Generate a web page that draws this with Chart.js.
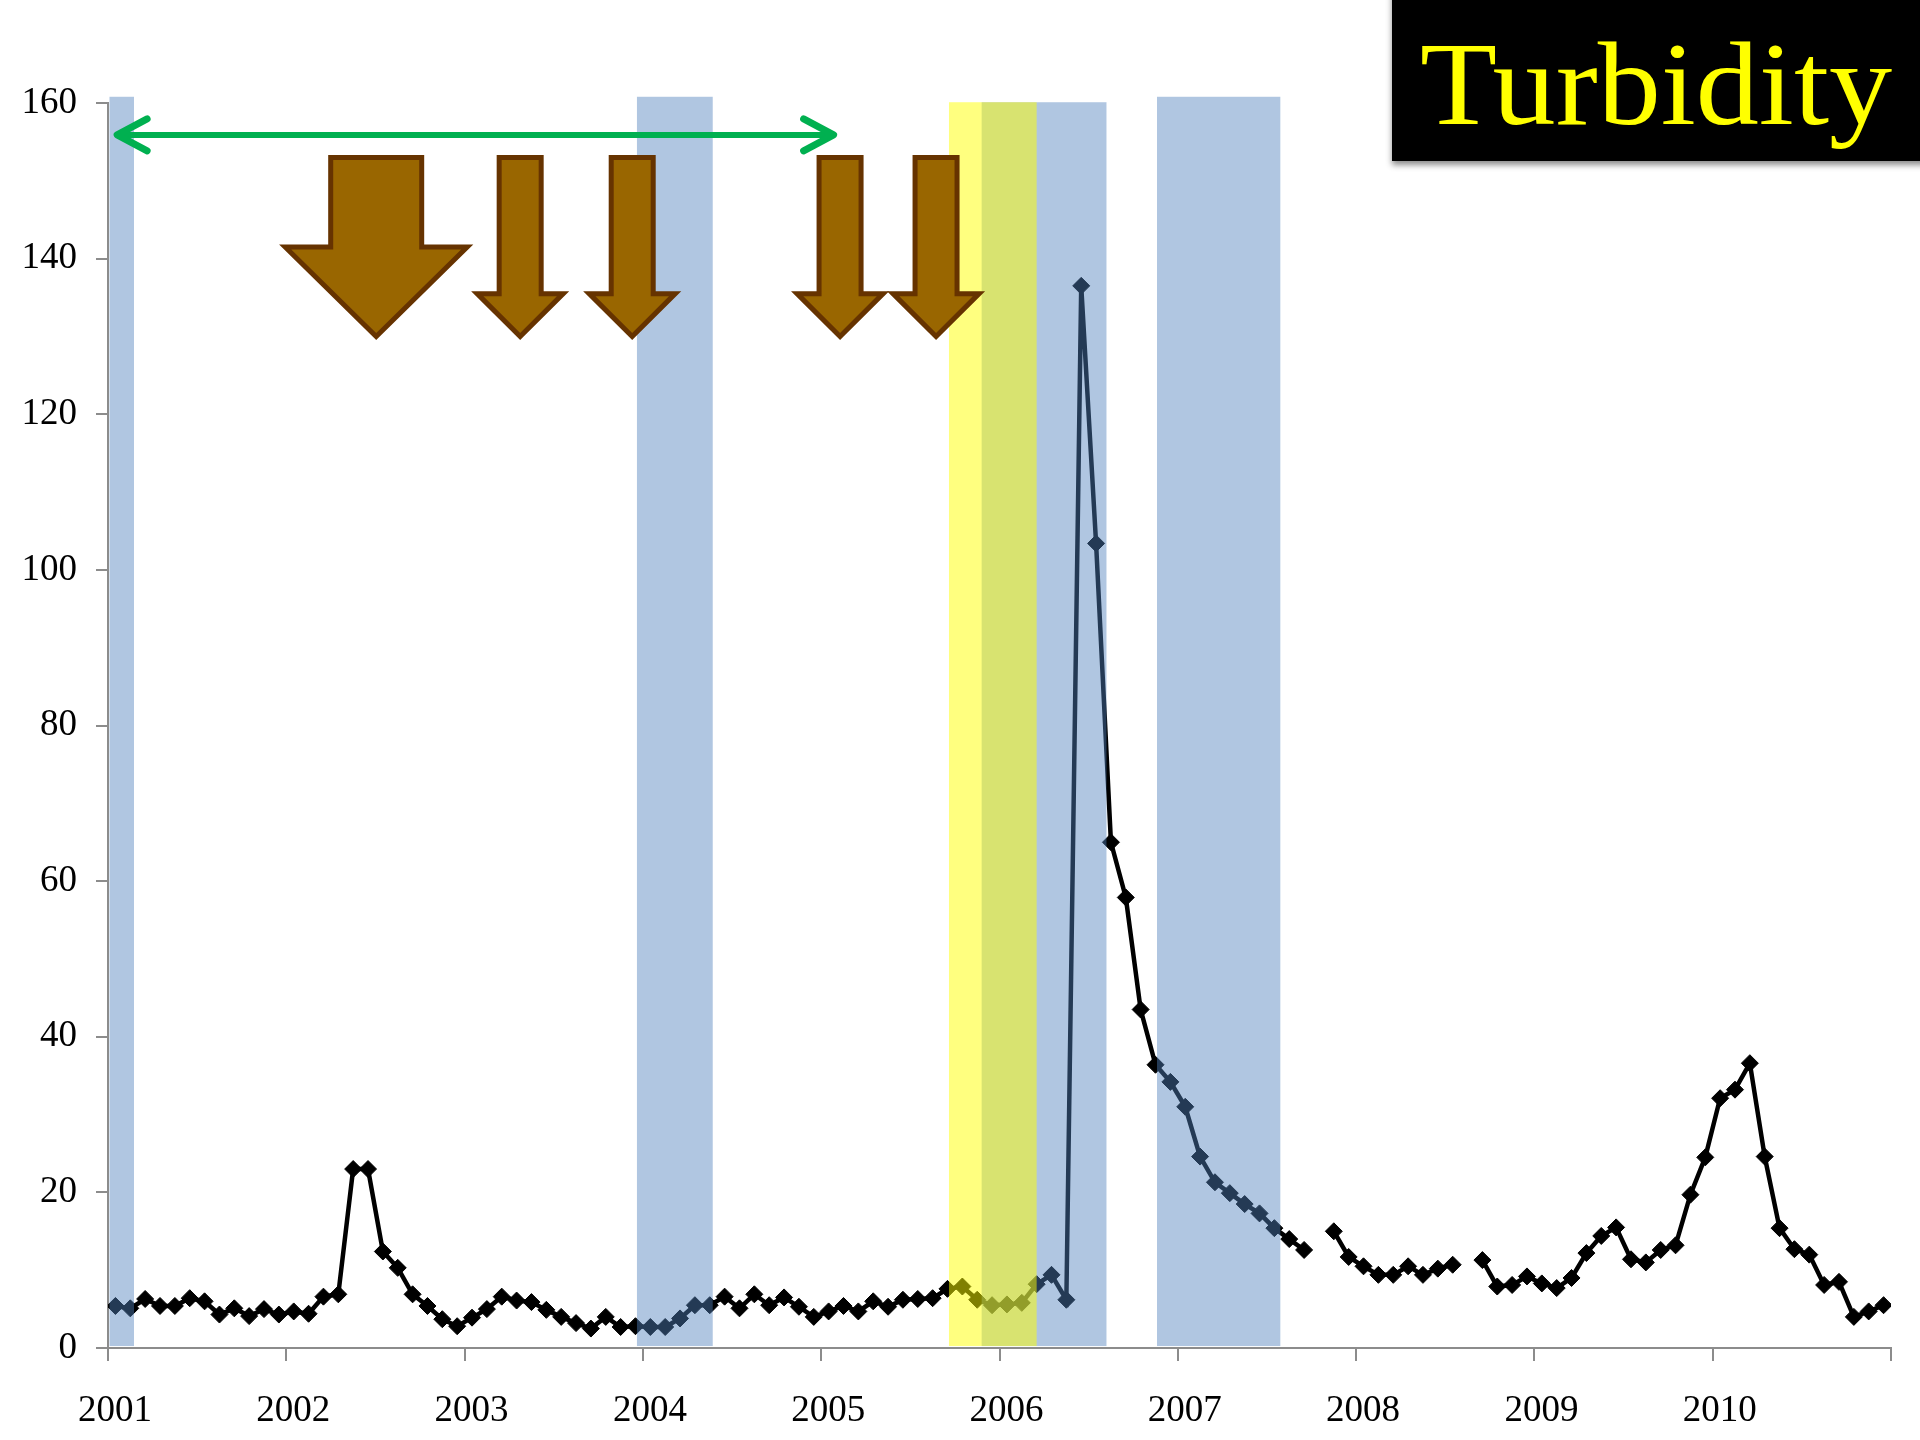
<!DOCTYPE html>
<html>
<head>
<meta charset="utf-8">
<script src="https://cdn.jsdelivr.net/npm/chart.js@4.4.0/dist/chart.umd.min.js"></script>
<style>
  body { margin: 0; background: #fff; }
  canvas { display: block; }
</style>
</head>
<body>
<canvas id="turbidityChart" width="1920" height="1440"></canvas>
<script>
// monthly turbidity, Jan 2001 .. Dec 2010 (null = no sample that month)
const startYear = 2001;
const turbidity = [
    5.4, 5.1, 6.3, 5.4, 5.4, 6.4, 6.0, 4.3, 5.1, 4.1, 5.0, 4.3,        // 2001
    4.7, 4.4, 6.6, 6.9, 23.0, 23.0, 12.4, 10.3, 6.9, 5.4, 3.7, 2.8,    // 2002
    3.9, 5.0, 6.6, 6.1, 5.9, 4.9, 4.0, 3.2, 2.5, 4.0, 2.7, 2.8,        // 2003
    2.7, 2.7, 3.8, 5.5, 5.5, 6.6, 5.1, 6.9, 5.5, 6.5, 5.3, 4.0,        // 2004
    4.7, 5.4, 4.7, 6.0, 5.3, 6.2, 6.3, 6.4, 7.6, 7.9, 6.2, 5.5,        // 2005
    5.6, 5.8, 8.2, 9.4, 6.2, 136.5, 103.4, 65.0, 57.9, 43.5, 36.4, 34.2, // 2006
    31.0, 24.6, 21.3, 19.9, 18.5, 17.3, 15.4, 14.0, 12.6, null, 15.0, 11.7, // 2007
    10.5, 9.4, 9.4, 10.5, 9.4, 10.2, 10.7, null, 11.3, 7.9, 8.1, 9.2,  // 2008
    8.3, 7.7, 9.0, 12.2, 14.4, 15.5, 11.4, 11.0, 12.6, 13.2, 19.7, 24.5, // 2009
    32.1, 33.2, 36.6, 24.6, 15.4, 12.7, 12.0, 8.1, 8.5, 4.0, 4.7, 5.5  // 2010
];
const yMin = 0, yMax = 160, yStep = 20;

// shaded periods, in months since Jan 2001
const bluePeriods = [[0.1, 1.75], [35.6, 40.7], [58.8, 67.2], [70.6, 78.9]];
const yellowPeriod = [56.6, 62.5];
// brown arrows (month of centre), first one is the big one
const arrowMonths = [18.05, 27.74, 35.28, 49.27, 55.73];
const greenSpan = [0.48, 48.97];

const points = turbidity.map((v, i) => ({ x: i + 0.5, y: v }));

const overlays = {
    id: 'overlays',
    afterDatasetsDraw(chart) {
        const { ctx, scales: { x, y } } = chart;
        ctx.save();

        //bands go on top of the line, like the slide
        ctx.fillStyle = 'rgba(79,129,189,0.45)';
        bluePeriods.forEach((p, i) => {
            const top = (i === 2) ? 160.1 : 160.8;
            const x0 = x.getPixelForValue(p[0]), x1 = x.getPixelForValue(p[1]);
            const y0 = y.getPixelForValue(top), y1 = y.getPixelForValue(0.25);
            ctx.fillRect(x0, y0, x1 - x0, y1 - y0);
        });
        ctx.fillStyle = 'rgba(255,255,0,0.5)';
        {
            const x0 = x.getPixelForValue(yellowPeriod[0]), x1 = x.getPixelForValue(yellowPeriod[1]);
            const y0 = y.getPixelForValue(160.1), y1 = y.getPixelForValue(0.25);
            ctx.fillRect(x0, y0, x1 - x0, y1 - y0);
        }

        //green double arrow
        const gy = y.getPixelForValue(155.9);
        const gx0 = x.getPixelForValue(greenSpan[0]), gx1 = x.getPixelForValue(greenSpan[1]);
        ctx.strokeStyle = '#00b050';
        ctx.lineWidth = 6;
        ctx.lineCap = 'round';
        ctx.lineJoin = 'round';
        ctx.beginPath();
        ctx.moveTo(gx0 + 3, gy); ctx.lineTo(gx1 - 3, gy);
        ctx.stroke();
        ctx.lineWidth = 7;
        ctx.beginPath();
        ctx.moveTo(gx0 + 32, gy - 16); ctx.lineTo(gx0 + 2, gy); ctx.lineTo(gx0 + 32, gy + 16);
        ctx.moveTo(gx1 - 32, gy - 16); ctx.lineTo(gx1 - 2, gy); ctx.lineTo(gx1 - 32, gy + 16);
        ctx.stroke();

        //brown arrows
        ctx.fillStyle = '#996600';
        ctx.strokeStyle = '#663300';
        ctx.lineWidth = 5;
        ctx.lineJoin = 'miter';
        arrowMonths.forEach((m, i) => {
            const big = i === 0;
            const cx = x.getPixelForValue(m);
            const shaft = big ? 45.5 : 21, head = big ? 91 : 43;
            const yTop = y.getPixelForValue(153);
            const yHead = y.getPixelForValue(big ? 141.5 : 135.5);
            const yTip = y.getPixelForValue(130);
            ctx.beginPath();
            ctx.moveTo(cx - shaft, yTop);
            ctx.lineTo(cx + shaft, yTop);
            ctx.lineTo(cx + shaft, yHead);
            ctx.lineTo(cx + head, yHead);
            ctx.lineTo(cx, yTip);
            ctx.lineTo(cx - head, yHead);
            ctx.lineTo(cx - shaft, yHead);
            ctx.closePath();
            ctx.fill();
            ctx.stroke();
        });
        ctx.restore();
    },
    afterDraw(chart) {
        const ctx = chart.ctx;
        ctx.save();
        ctx.shadowColor = 'rgba(0,0,0,0.45)';
        ctx.shadowBlur = 6;
        ctx.shadowOffsetY = 4;
        ctx.fillStyle = '#000';
        ctx.fillRect(1392, -10, 540, 171);
        ctx.shadowColor = 'transparent';
        ctx.fillStyle = '#ffff00';
        ctx.font = '118px "Liberation Serif"';
        const w = ctx.measureText('Turbidity').width;
        ctx.translate(1420, 124);
        ctx.scale(472 / w, 1);
        ctx.fillText('Turbidity', 0, 0);
        ctx.restore();
    }
};

new Chart(document.getElementById('turbidityChart'), {
    type: 'line',
    data: {
        datasets: [{
            data: points,
            borderColor: '#000',
            borderWidth: 4.5,
            backgroundColor: '#000',
            pointStyle: 'rectRot',
            pointRadius: 8.5,
            pointBorderWidth: 1,
            pointBorderColor: '#000',
            pointBackgroundColor: '#000',
            tension: 0,
            spanGaps: false,
            fill: false
        }]
    },
    options: {
        responsive: false,
        animation: false,
        devicePixelRatio: 1,
        layout: { padding: { top: 103, right: 29, left: 0, bottom: 0 } },
        plugins: { legend: { display: false }, tooltip: { enabled: false } },
        scales: {
            x: {
                type: 'linear',
                min: 0,
                max: turbidity.length,
                afterFit: (s) => { s.height = 92; },
                border: { display: true, color: '#8c8c8c', width: 2 },
                grid: { display: true, drawOnChartArea: false, drawTicks: true, tickLength: 13, color: '#8c8c8c', lineWidth: 2 },
                ticks: {
                    stepSize: 12,
                    autoSkip: false,
                    maxRotation: 0,
                    padding: 28,
                    labelOffset: 7,
                    color: '#000',
                    font: { family: 'Liberation Serif', size: 37 },
                    callback: (v) => v < turbidity.length ? String(startYear + v / 12) : ''
                }
            },
            y: {
                min: yMin,
                max: yMax,
                afterFit: (s) => { s.width = 108; },
                border: { display: true, color: '#8c8c8c', width: 2 },
                grid: { display: true, drawOnChartArea: false, drawTicks: true, tickLength: 12, color: '#8c8c8c', lineWidth: 2 },
                ticks: {
                    stepSize: yStep,
                    padding: 19,
                    color: '#000',
                    font: { family: 'Liberation Serif', size: 37 }
                }
            }
        }
    },
    plugins: [overlays]
});
</script>
</body>
</html>
